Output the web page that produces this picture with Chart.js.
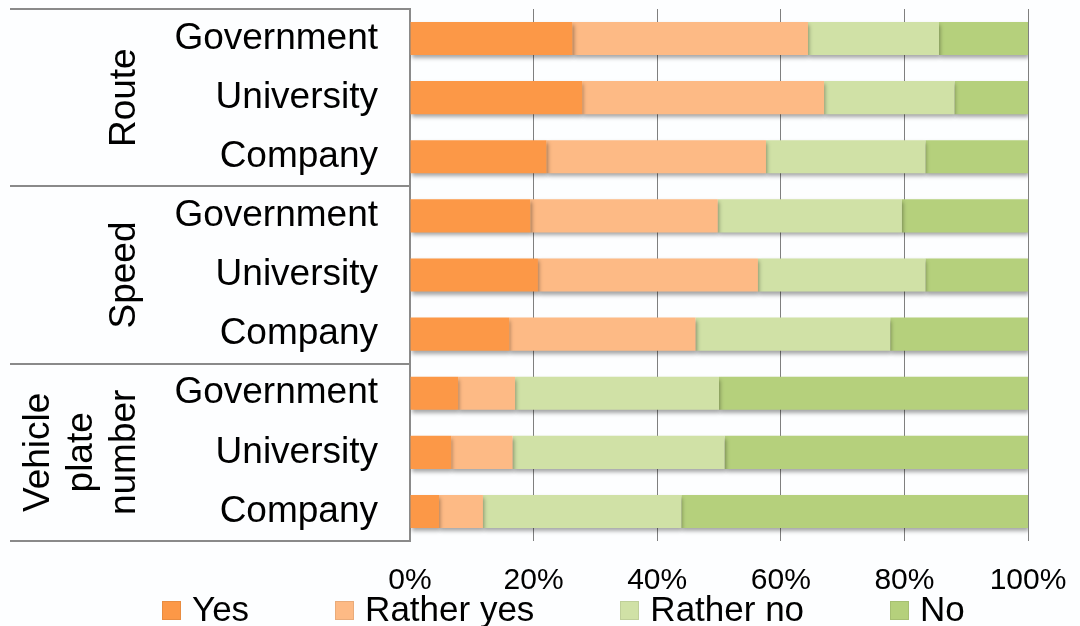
<!DOCTYPE html>
<html>
<head>
<meta charset="utf-8">
<title>Acceptance of data sharing</title>
<script src="https://cdn.jsdelivr.net/npm/chart.js@4"></script>
<style>
    html, body { margin: 0; padding: 0; background: #fdfeff; overflow: hidden; }
    #wrap { position: relative; width: 1080px; height: 626px; }
    #legend {
        position: absolute; left: 162px; top: 591px;
        display: flex; gap: 86px;
        font: 35px 'Liberation Sans', Arial, sans-serif; line-height: 35px; color: #000;
    }
    #legend .item { display: flex; align-items: center; white-space: nowrap; }
    #legend .box { width: 19px; height: 19px; margin-right: 11px; position: relative; top: 2px; box-sizing: border-box; border: 1px solid rgba(0,0,0,0.08); }
</style>
</head>
<body>
<div id="wrap">
    <canvas id="surveyChart" width="1080" height="626"></canvas>
    <div id="legend"></div>
</div>
<script>
// rows: three respondent types inside each data type
const categories = ['Government', 'University', 'Company',
                    'Government', 'University', 'Company',
                    'Government', 'University', 'Company'];
const groups = [['Route'], ['Speed'], ['Vehicle', 'plate', 'number']];
const answers = ['Yes', 'Rather yes', 'Rather no', 'No'];
const colors = ['#fc9847', '#fdba85', '#d0e1a6', '#b5d07c'];

// share of answers in %
const yes       = [26.3, 27.9, 22.1, 19.5, 20.7, 16.1,  7.8,  6.7,  4.7];
const ratherYes = [38.1, 39.1, 35.5, 30.3, 35.6, 30.1,  9.2,  9.9,  7.1];
const ratherNo  = [21.2, 21.1, 25.8, 29.8, 27.1, 31.5, 33.0, 34.3, 32.1];
const no        = [14.4, 11.9, 16.6, 20.4, 16.6, 22.3, 50.0, 49.1, 56.1];

const xTicks = [0, 20, 40, 60, 80, 100];

const FONT = "'Liberation Sans', Arial, sans-serif";
const LINE = '#8a8a8a';

// soft drop shadow under the bars
const barShadow = {
    id: 'barShadow',
    beforeDatasetsDraw(chart) {
        const ctx = chart.ctx;
        ctx.save();
        ctx.shadowColor = 'rgba(0,0,0,0.35)';
        ctx.shadowBlur = 4;
        ctx.shadowOffsetX = 1;
        ctx.shadowOffsetY = 3;
    },
    afterDatasetsDraw(chart) {
        chart.ctx.restore();
    }
};

// group boxes and rotated group names left of the row labels
const groupLabels = {
    id: 'groupLabels',
    afterDraw(chart) {
        const ctx = chart.ctx;
        const y = chart.scales.y;
        const left = 10;
        const right = chart.chartArea.left;
        ctx.save();
        ctx.strokeStyle = LINE;
        ctx.lineWidth = 2;
        for (let g = 0; g <= groups.length; g++) {
            const py = Math.round(y.getPixelForValue(g * 3 - 0.5));
            ctx.beginPath();
            ctx.moveTo(left, py);
            ctx.lineTo(right, py);
            ctx.stroke();
        }
        ctx.fillStyle = '#000';
        ctx.font = '37px ' + FONT;
        ctx.textAlign = 'center';
        ctx.textBaseline = 'alphabetic';
        groups.forEach((lines, g) => {
            const cy = y.getPixelForValue(g * 3 + 1);
            lines.forEach((txt, i) => {
                const bx = 135 - 43 * (lines.length - 1 - i);
                ctx.save();
                ctx.translate(bx, cy);
                ctx.rotate(-Math.PI / 2);
                ctx.fillText(txt, 0, 0);
                ctx.restore();
            });
        });
        ctx.restore();
    }
};

const series = [yes, ratherYes, ratherNo, no];

const chart = new Chart(document.getElementById('surveyChart'), {
    type: 'bar',
    data: {
        labels: categories,
        datasets: answers.map((name, i) => ({
            label: name,
            data: series[i],
            backgroundColor: colors[i],
            borderWidth: 0,
            categoryPercentage: 1,
            barPercentage: 0.56
        }))
    },
    options: {
        indexAxis: 'y',
        responsive: false,
        devicePixelRatio: 1,
        animation: false,
        layout: { padding: { left: 0, top: 9, right: 52, bottom: 5 } },
        plugins: {
            legend: { display: false },
            tooltip: { enabled: false }
        },
        scales: {
            x: {
                stacked: true,
                min: 0,
                max: 100,
                afterBuildTicks(scale) {
                    scale.ticks = xTicks.map(v => ({ value: v }));
                },
                afterFit(scale) {
                    // labels may hang over the padding, don't shrink the plot for them
                    scale.paddingLeft = 0;
                    scale.paddingRight = 0;
                },
                ticks: {
                    callback: v => v + '%',
                    color: '#000',
                    font: { family: FONT, size: 30 },
                    padding: 22,
                    maxRotation: 0
                },
                grid: { color: '#7f7f7f', lineWidth: 1, drawTicks: false },
                border: { display: false }
            },
            y: {
                stacked: true,
                ticks: {
                    color: '#000',
                    font: { family: FONT, size: 37 },
                    padding: 32,
                    autoSkip: false
                },
                grid: { display: false, drawTicks: false },
                border: { display: true, color: LINE, width: 2 },
                afterFit(scale) {
                    scale.width = 410;
                    scale.paddingTop = 0;
                    scale.paddingBottom = 0;
                }
            }
        }
    },
    plugins: [barShadow, groupLabels]
});

// legend below the axis, built from the datasets
const legendEl = document.getElementById('legend');
chart.data.datasets.forEach(ds => {
    const item = document.createElement('div');
    item.className = 'item';
    const box = document.createElement('span');
    box.className = 'box';
    box.style.background = ds.backgroundColor;
    item.appendChild(box);
    item.appendChild(document.createTextNode(ds.label));
    legendEl.appendChild(item);
});
</script>
</body>
</html>
